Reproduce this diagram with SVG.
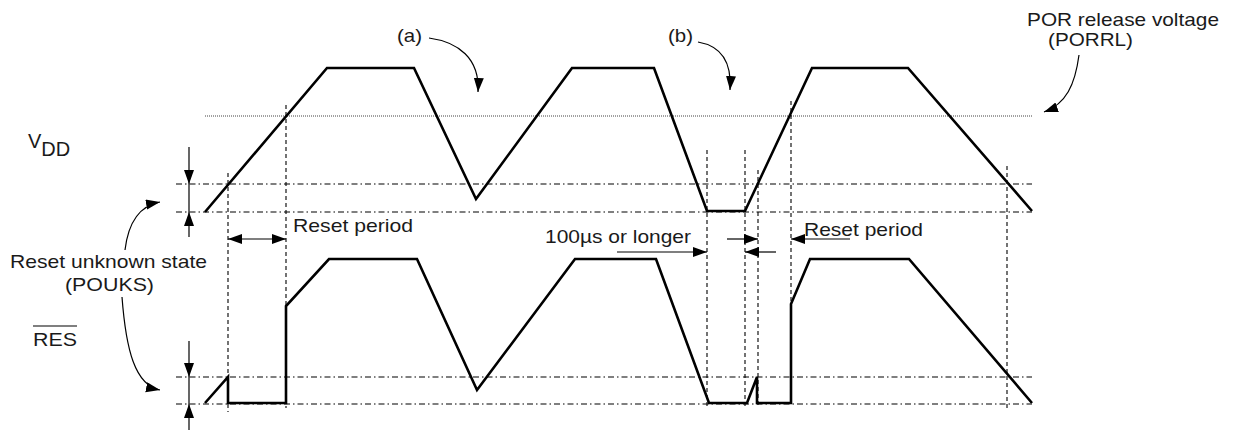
<svg xmlns="http://www.w3.org/2000/svg" width="1237" height="430" viewBox="0 0 1237 430">
<style>
  text { font-family: "Liberation Sans", Arial, sans-serif; font-size: 19px; fill: #1a1a1a; }
  .wave { fill: none; stroke: #000; stroke-width: 2.6; stroke-linejoin: miter; }
  .dd { fill: none; stroke: #000; stroke-width: 1.1; stroke-dasharray: 6 3 1.5 3; }
  .dash { fill: none; stroke: #000; stroke-width: 1.1; stroke-dasharray: 4 3; }
  .dot { fill: none; stroke: #444; stroke-width: 1; stroke-dasharray: 1 1; }
  .ln { fill: none; stroke: #000; stroke-width: 1.2; }
</style>
<defs>
  <marker id="ah" markerUnits="userSpaceOnUse" markerWidth="16" markerHeight="12" refX="14" refY="5" orient="auto-start-reverse">
    <path d="M0,0 L14,5 L0,10 z" fill="#000"/>
  </marker>
</defs>
<rect width="1237" height="430" fill="#fff"/>

<g id="grid">
  <path class="dot" d="M205,116 H1033"/>
  <path class="dd" d="M176,184 H1032 M176,212 H1032 M176,377 H1032 M176,404 H1032"/>
  <path class="dash" d="M228,173 V412 M286,105 V408 M707,150 V407 M745,150 V407 M758,170 V408 M791,101 V403 M1007,166 V410"/>
</g>

<g id="vdd-wave">
  <path class="wave" d="M205,212 L327,68 L414,68 L476,199 L572,68 L654,68 L707,211 L745,211 L812,68 L908,68 L1032,211"/>
</g>
<g id="res-wave">
  <path class="wave" d="M205,403 L228,377 L228,403 L286,403 L286,306 L329,259 L417,259 L477,390 L575,259 L656,259 L709,403 L747,403 L757,377 L757,403 L791,403 L791,304 L810,259 L909,259 L1032,403"/>
</g>

<g id="connectors">
  <path class="ln" d="M189,147 V184" marker-end="url(#ah)"/>
  <path class="ln" d="M189,184 V212"/>
  <path class="ln" d="M189,237 V212" marker-end="url(#ah)"/>
  <path class="ln" d="M189,341 V377" marker-end="url(#ah)"/>
  <path class="ln" d="M189,377 V404"/>
  <path class="ln" d="M189,430 V404" marker-end="url(#ah)"/>
  <path class="ln" d="M228,239 H286" marker-start="url(#ah)" marker-end="url(#ah)"/>
  <path class="ln" d="M617,252 H707" marker-end="url(#ah)"/>
  <path class="ln" d="M776,252 H745" marker-end="url(#ah)"/>
  <path class="ln" d="M727,239 H758" marker-end="url(#ah)"/>
  <path class="ln" d="M850,239 H791" marker-end="url(#ah)"/>
  <path class="ln" d="M429,38 C458,42 480,58 478,92" marker-end="url(#ah)"/>
  <path class="ln" d="M698,42 C721,46 732,62 730,90" marker-end="url(#ah)"/>
  <path class="ln" d="M1079,55 C1075,85 1066,104 1044,112" marker-end="url(#ah)"/>
  <path class="ln" d="M125,250 C128,225 138,206 160,202" marker-end="url(#ah)"/>
  <path class="ln" d="M122,297 C126,350 135,385 160,390" marker-end="url(#ah)"/>
</g>

<g id="labels">
  <text x="397" y="42" textLength="25" lengthAdjust="spacingAndGlyphs">(a)</text>
  <text x="668" y="42" textLength="25" lengthAdjust="spacingAndGlyphs">(b)</text>
  <text x="1027" y="26" textLength="192" lengthAdjust="spacingAndGlyphs">POR release voltage</text>
  <text x="1048" y="46" textLength="85" lengthAdjust="spacingAndGlyphs">(PORRL)</text>
  <text x="28" y="148" style="font-size:20px">V<tspan y="156">DD</tspan></text>
  <text x="10" y="268" textLength="197" lengthAdjust="spacingAndGlyphs">Reset unknown state</text>
  <text x="65" y="291" textLength="89" lengthAdjust="spacingAndGlyphs">(POUKS)</text>
  <text x="33" y="346" textLength="44" lengthAdjust="spacingAndGlyphs">RES</text>
  <path class="ln" d="M33,326 H77"/>
  <text x="293" y="232" textLength="120" lengthAdjust="spacingAndGlyphs">Reset period</text>
  <text x="545" y="243" textLength="146" lengthAdjust="spacingAndGlyphs">100µs or longer</text>
  <text x="804" y="236" textLength="119" lengthAdjust="spacingAndGlyphs">Reset period</text>
</g>
</svg>
